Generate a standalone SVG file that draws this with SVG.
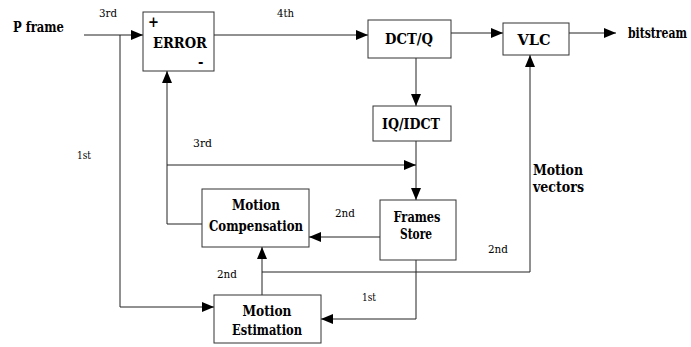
<svg xmlns="http://www.w3.org/2000/svg" width="691" height="347" viewBox="0 0 691 347">
<defs>
<marker id="ah" viewBox="0 0 12 10" refX="12" refY="5" markerWidth="12" markerHeight="10" markerUnits="userSpaceOnUse" orient="auto">
<path d="M0,0 L12,5 L0,10 Z" fill="#000"/>
</marker>
<style>
.box{fill:#fff;stroke:#333;stroke-width:1}
.ln{fill:none;stroke:#222;stroke-width:1}
.t{font-family:"DejaVu Serif Condensed","DejaVu Serif","Liberation Serif",serif;font-weight:bold;font-size:14.5px;fill:#000}
.s{font-family:"DejaVu Serif Condensed","DejaVu Serif","Liberation Serif",serif;font-size:11px;fill:#000}
.c{text-anchor:middle}
</style>
</defs>
<rect width="691" height="347" fill="#fff"/>
<g id="connectors">
<path class="ln" d="M84,35 H143" marker-end="url(#ah)"/>
<path class="ln" d="M120,35 V307 H214" marker-end="url(#ah)"/>
<path class="ln" d="M214,35 H368" marker-end="url(#ah)"/>
<path class="ln" d="M451,33 H503" marker-end="url(#ah)"/>
<path class="ln" d="M569,33 H616" marker-end="url(#ah)"/>
<path class="ln" d="M416,58 V106" marker-end="url(#ah)"/>
<path class="ln" d="M416,141 V200" marker-end="url(#ah)"/>
<path class="ln" d="M167,165 H416" marker-end="url(#ah)"/>
<path class="ln" d="M202,224 H167 V71" marker-end="url(#ah)"/>
<path class="ln" d="M380,237 H309" marker-end="url(#ah)"/>
<path class="ln" d="M416,260 V319 H321" marker-end="url(#ah)"/>
<path class="ln" d="M262,295 V247" marker-end="url(#ah)"/>
<path class="ln" d="M262,272 H530 V55" marker-end="url(#ah)"/>
</g>
<g id="error">
<rect class="box" x="143" y="12" width="71" height="59"/>
<text class="t c" x="180" y="48" textLength="54" lengthAdjust="spacingAndGlyphs">ERROR</text>
<text class="t" x="148" y="27">+</text>
<text class="t" x="198" y="67">-</text>
</g>
<g id="dctq">
<rect class="box" x="368" y="20" width="83" height="38"/>
<text class="t c" x="409" y="44" textLength="48" lengthAdjust="spacingAndGlyphs">DCT/Q</text>
</g>
<g id="vlc">
<rect class="box" x="503" y="23" width="66" height="32"/>
<text class="t c" x="534" y="45" textLength="33" lengthAdjust="spacingAndGlyphs">VLC</text>
</g>
<g id="iqidct">
<rect class="box" x="373" y="106" width="78" height="35"/>
<text class="t c" x="411" y="129" textLength="58" lengthAdjust="spacingAndGlyphs">IQ/IDCT</text>
</g>
<g id="framesstore">
<rect class="box" x="380" y="200" width="76" height="60"/>
<text class="t c" x="417" y="222" textLength="47" lengthAdjust="spacingAndGlyphs">Frames</text>
<text class="t c" x="416" y="239" textLength="32" lengthAdjust="spacingAndGlyphs">Store</text>
</g>
<g id="motioncomp">
<rect class="box" x="202" y="189" width="107" height="58"/>
<text class="t c" x="256" y="210" textLength="48" lengthAdjust="spacingAndGlyphs">Motion</text>
<text class="t c" x="256" y="231" textLength="94" lengthAdjust="spacingAndGlyphs">Compensation</text>
</g>
<g id="motionest">
<rect class="box" x="214" y="295" width="107" height="48"/>
<text class="t c" x="267" y="316" textLength="49" lengthAdjust="spacingAndGlyphs">Motion</text>
<text class="t c" x="267" y="335" textLength="70" lengthAdjust="spacingAndGlyphs">Estimation</text>
</g>
<g id="labels">
<text class="t" x="13" y="32" textLength="51" lengthAdjust="spacingAndGlyphs">P frame</text>
<text class="t" x="687" y="38" text-anchor="end" textLength="59" lengthAdjust="spacingAndGlyphs">bitstream</text>
<text class="t" x="533" y="175" textLength="50" lengthAdjust="spacingAndGlyphs">Motion</text>
<text class="t" x="533" y="192" textLength="51" lengthAdjust="spacingAndGlyphs">vectors</text>
<text class="s" x="99" y="17" textLength="18" lengthAdjust="spacingAndGlyphs">3rd</text>
<text class="s" x="277" y="17" textLength="17" lengthAdjust="spacingAndGlyphs">4th</text>
<text class="s" x="77" y="159" textLength="14" lengthAdjust="spacingAndGlyphs">1st</text>
<text class="s" x="193" y="147" textLength="19" lengthAdjust="spacingAndGlyphs">3rd</text>
<text class="s" x="335" y="217" textLength="20" lengthAdjust="spacingAndGlyphs">2nd</text>
<text class="s" x="488" y="253" textLength="20" lengthAdjust="spacingAndGlyphs">2nd</text>
<text class="s" x="217" y="278" textLength="20" lengthAdjust="spacingAndGlyphs">2nd</text>
<text class="s" x="362" y="301" textLength="14" lengthAdjust="spacingAndGlyphs">1st</text>
</g>
</svg>
